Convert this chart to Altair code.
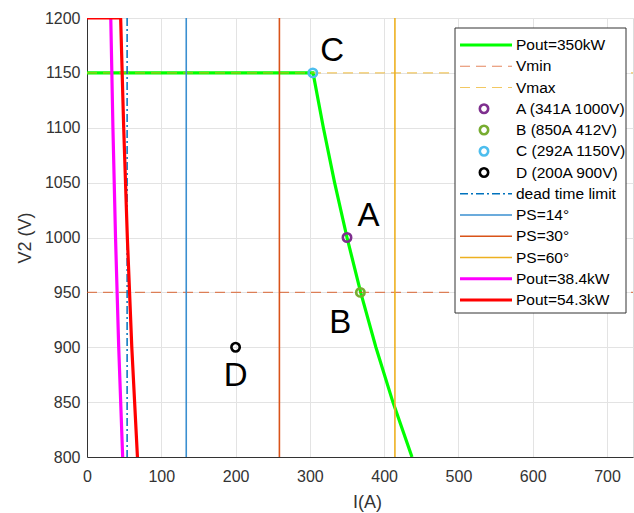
import altair as alt
import pandas as pd

# ---------------- data ----------------
# Pout = 350 kW curve (horizontal at 1150 V, then I = P/V)
p350_I = [0, 304.3, 318.2, 333.3, 350.0, 368.4, 388.9, 411.8, 437.5]
p350_V = [1150, 1150, 1100, 1050, 1000, 950, 900, 850, 800]
# Pout = 38.4 kW
p384_I = [32.0, 34.9, 38.4, 42.7, 48.0]
p384_V = [1200, 1100, 1000, 900, 800]
# Pout = 54.3 kW
p543_I = [0, 45.3, 49.4, 54.3, 60.3, 67.9]
p543_V = [1200, 1200, 1100, 1000, 900, 800]

vmin = 950
vmax = 1150
dead_time_I = 54
ps_names = ["PS=14°", "PS=30°", "PS=60°"]
ps_I = [133.6, 259.0, 414.5]

pt_names = ["A", "B", "C", "D"]
pt_I = [350, 368, 304, 200]
pt_V = [1000, 950, 1150, 900]
pt_legend = ["A (341A 1000V)", "B (850A 412V)", "C (292A 1150V)", "D (200A 900V)"]
lbl_I = [379, 341, 330, 200]
lbl_V = [1020, 922, 1170, 874]

x_ticks = [0, 100, 200, 300, 400, 500, 600, 700]
y_ticks = [800, 850, 900, 950, 1000, 1050, 1100, 1150, 1200]

# ---------------- style ----------------
W, H = 546, 439
FONT = "Liberation Sans"
GREEN = "#00FF00"
C_VMIN = "#D95319"
C_VMAX = "#EDB120"
C_PT = ["#7E2F8E", "#77AC30", "#4DBEEE", "#000000"]
C_DEAD = "#0072BD"
C_PS = ["#3A8FD0", "#D95319", "#EDB120"]
MAGENTA = "#FF00FF"
RED = "#FF0000"

xs = alt.Scale(domain=[0, 735], nice=False, zero=False)
ys = alt.Scale(domain=[800, 1200], nice=False, zero=False)

x_axis = alt.Axis(values=x_ticks, title="I(A)", grid=True, gridColor="#E3E3E3",
                  format="d", labelFlush=False,
                  ticks=False, tickSize=0, labelPadding=11, labelFontSize=16,
                  labelColor="#333333", labelFont=FONT, titleFont=FONT,
                  titleFontSize=18, titleFontWeight="normal", titleColor="#333333",
                  titleX=280, titleY=45, titleBaseline="middle", titleAlign="center",
                  domainColor="#333333")
y_axis = alt.Axis(values=y_ticks, title="V2 (V)", grid=True, gridColor="#E3E3E3",
                  format="d", labelFlush=False,
                  ticks=False, tickSize=0, labelPadding=7, labelFontSize=16,
                  labelColor="#333333", labelFont=FONT, titleFont=FONT,
                  titleFontSize=18, titleFontWeight="normal", titleColor="#333333",
                  titleAngle=-90, titleX=-62, titleY=H / 2, titleBaseline="middle",
                  titleAlign="center", domainColor="#333333")


def curve(I, V, color, width):
    df = pd.DataFrame({"I": I, "V": V, "o": list(range(len(I)))})
    return alt.Chart(df).mark_line(color=color, strokeWidth=width, clip=True).encode(
        x=alt.X("I:Q", scale=xs, axis=x_axis),
        y=alt.Y("V:Q", scale=ys, axis=y_axis),
        order="o:Q",
    )


base_green = curve(p350_I, p350_V, GREEN, 3.2)

hlines = []
for v, c in [(vmin, C_VMIN), (vmax, C_VMAX)]:
    hlines.append(
        alt.Chart(pd.DataFrame({"V": [v]})).mark_rule(
            color=c, strokeWidth=1.2, strokeDash=[10, 6], opacity=0.7
        ).encode(y=alt.Y("V:Q", scale=ys), x=alt.value(0), x2=alt.value(W))
    )

pts_df = pd.DataFrame({"I": pt_I, "V": pt_V, "n": pt_names})
points = alt.Chart(pts_df).mark_point(filled=False, size=70, strokeWidth=2.6, opacity=1).encode(
    x=alt.X("I:Q", scale=xs),
    y=alt.Y("V:Q", scale=ys),
    color=alt.Color("n:N", scale=alt.Scale(domain=pt_names, range=C_PT), legend=None),
)

dead = alt.Chart(pd.DataFrame({"I": [dead_time_I]})).mark_rule(
    color=C_DEAD, strokeWidth=1.5, strokeDash=[8, 3, 2, 3]
).encode(x=alt.X("I:Q", scale=xs), y=alt.value(0), y2=alt.value(H))

ps_layers = []
for i, c in zip(ps_I, C_PS):
    ps_layers.append(
        alt.Chart(pd.DataFrame({"I": [i]})).mark_rule(color=c, strokeWidth=1.6).encode(
            x=alt.X("I:Q", scale=xs), y=alt.value(0), y2=alt.value(H)
        )
    )

magenta = curve(p384_I, p384_V, MAGENTA, 3.2)
red = curve(p543_I, p543_V, RED, 3.2)

labels = alt.Chart(pd.DataFrame({"I": lbl_I, "V": lbl_V, "t": pt_names})).mark_text(
    font=FONT, fontSize=33, color="black", align="center", baseline="middle"
).encode(x=alt.X("I:Q", scale=xs), y=alt.Y("V:Q", scale=ys), text="t:N")

# ---------------- legend (drawn inside the plot area) ----------------
leg_names = ["Pout=350kW", "Vmin", "Vmax"] + pt_legend + ["dead time limit"] + ps_names + [
    "Pout=38.4kW", "Pout=54.3kW"]
leg_kind = ["line", "dash", "dash", "pt", "pt", "pt", "pt", "dashdot", "line", "line", "line",
            "line", "line"]
leg_color = [GREEN, C_VMIN, C_VMAX] + C_PT + [C_DEAD] + C_PS + [MAGENTA, RED]
leg_width = [3.2, 1.2, 1.2, 0, 0, 0, 0, 1.5, 1.6, 1.6, 1.6, 3.2, 3.2]

LX0, LX1, LY0, LY1 = 368, 539, 10, 295
row_y = [27 + 21.25 * k for k in range(len(leg_names))]

legend_box = alt.Chart(pd.DataFrame({"a": [0]})).mark_rect(
    fill="white", stroke="#333333", strokeWidth=1
).encode(x=alt.value(LX0), x2=alt.value(LX1), y=alt.value(LY0), y2=alt.value(LY1))

leg_layers = [legend_box]
for k, (kind, col, w) in enumerate(zip(leg_kind, leg_color, leg_width)):
    yy = row_y[k]
    if kind == "pt":
        leg_layers.append(
            alt.Chart(pd.DataFrame({"a": [0]})).mark_point(
                filled=False, size=70, strokeWidth=2.6, color=col, opacity=1
            ).encode(x=alt.value(397), y=alt.value(yy))
        )
    else:
        props = dict(color=col, strokeWidth=w)
        if kind == "dash":
            props["strokeDash"] = [10, 6]
            props["opacity"] = 0.7
        if kind == "dashdot":
            props["strokeDash"] = [8, 3, 2, 3]
        leg_layers.append(
            alt.Chart(pd.DataFrame({"a": [0]})).mark_rule(**props).encode(
                x=alt.value(373), x2=alt.value(425), y=alt.value(yy)
            )
        )

leg_text = alt.Chart(pd.DataFrame({"t": leg_names, "py": row_y})).mark_text(
    font=FONT, fontSize=15.5, color="black", align="left", baseline="middle"
).encode(x=alt.value(429), y=alt.Y("py:Q", scale=None), text="t:N")
leg_layers.append(leg_text)

chart = alt.layer(
    base_green, *hlines, points, dead, *ps_layers, magenta, red, labels, *leg_layers
).properties(
    width=W, height=H,
    autosize=alt.AutoSizeParams(type="none"),
    padding={"left": 87, "top": 18, "right": 1, "bottom": 56},
).configure_view(
    stroke="#333333", strokeWidth=1
).configure(background="white")

chart.save("out.html", embed_options={"renderer": "svg", "actions": False})
